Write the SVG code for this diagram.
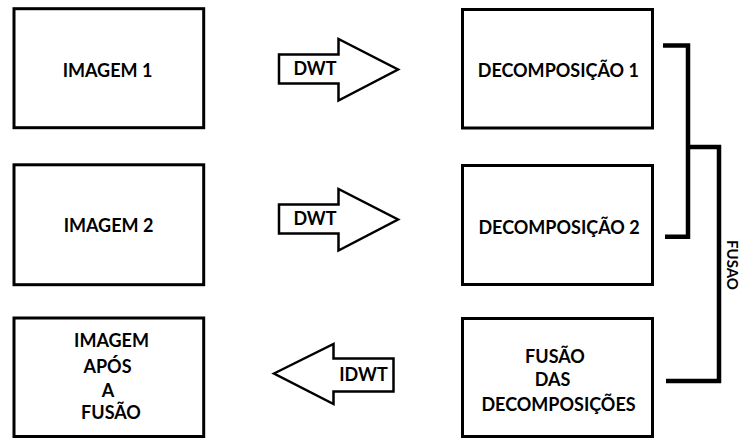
<svg xmlns="http://www.w3.org/2000/svg" width="742" height="438" viewBox="0 0 742 438">
  <style>
    .box { fill: #ffffff; stroke: #000000; stroke-width: 3; }
    .arrow { fill: #ffffff; stroke: #000000; stroke-width: 2.5; stroke-linejoin: miter; }
    .bracket { fill: none; stroke: #000000; stroke-width: 4.5; stroke-linejoin: miter; stroke-linecap: butt; }
    .lbl { font-family: Lato, "Liberation Sans", Arial, sans-serif; font-weight: 700; font-size: 18px; fill: #000000; text-anchor: middle; }
    .small { font-size: 15px; }
  </style>
  <rect width="742" height="438" fill="#ffffff"/>

  <!-- connectors: transform arrows and the fusion bracket -->
  <g id="connectors">
    <g id="dwt1">
      <polygon class="arrow" points="279,54.5 338.5,54.5 338.5,39 398,69.5 338.5,100.5 338.5,83.5 279,83.5"/>
      <text class="lbl" x="315" y="75">DWT</text>
    </g>
    <g id="dwt2">
      <polygon class="arrow" points="279,204.5 338.5,204.5 338.5,189 398,219.5 338.5,250.5 338.5,233.5 279,233.5"/>
      <text class="lbl" x="315" y="225">DWT</text>
    </g>
    <g id="idwt">
      <polygon class="arrow" points="274,373.5 333.5,344 333.5,358.5 393.5,358.5 393.5,391.5 333.5,391.5 333.5,404"/>
      <text class="lbl" x="363.5" y="380.5">IDWT</text>
    </g>
    <g id="fusion-bracket">
      <path class="bracket" d="M663,45.5 H688 V236.7 H665"/>
      <path class="bracket" d="M688,147 H719 V381 H666"/>
      <text class="lbl small" transform="translate(727,265) rotate(90)">FUSAO</text>
    </g>
  </g>

  <g id="imagem1">
    <rect class="box" x="14" y="8.7" width="189.7" height="119"/>
    <text class="lbl" x="107.5" y="77.3">IMAGEM 1</text>
  </g>
  <g id="imagem2">
    <rect class="box" x="14" y="164.8" width="189.7" height="119.9"/>
    <text class="lbl" x="108.5" y="232.3">IMAGEM 2</text>
  </g>
  <g id="imagem-fusao">
    <rect class="box" x="14" y="318" width="189.7" height="118.5"/>
    <text class="lbl" x="111.5" y="347.3">IMAGEM</text>
    <text class="lbl" x="107.5" y="372.5">APÓS</text>
    <text class="lbl" x="108" y="397">A</text>
    <text class="lbl" x="111" y="419.3">FUSÃO</text>
  </g>
  <g id="decomposicao1">
    <rect class="box" x="462.5" y="9.5" width="190" height="118.5"/>
    <text class="lbl" x="558.3" y="77.3">DECOMPOSIÇÃO 1</text>
  </g>
  <g id="decomposicao2">
    <rect class="box" x="462.5" y="165.5" width="190" height="119"/>
    <text class="lbl" x="559" y="234">DECOMPOSIÇÃO 2</text>
  </g>
  <g id="fusao-decomposicoes">
    <rect class="box" x="462.5" y="318.5" width="190" height="118"/>
    <text class="lbl" x="555" y="362.7">FUSÃO</text>
    <text class="lbl" x="552.5" y="386">DAS</text>
    <text class="lbl" x="558.5" y="411">DECOMPOSIÇÕES</text>
  </g>
</svg>
